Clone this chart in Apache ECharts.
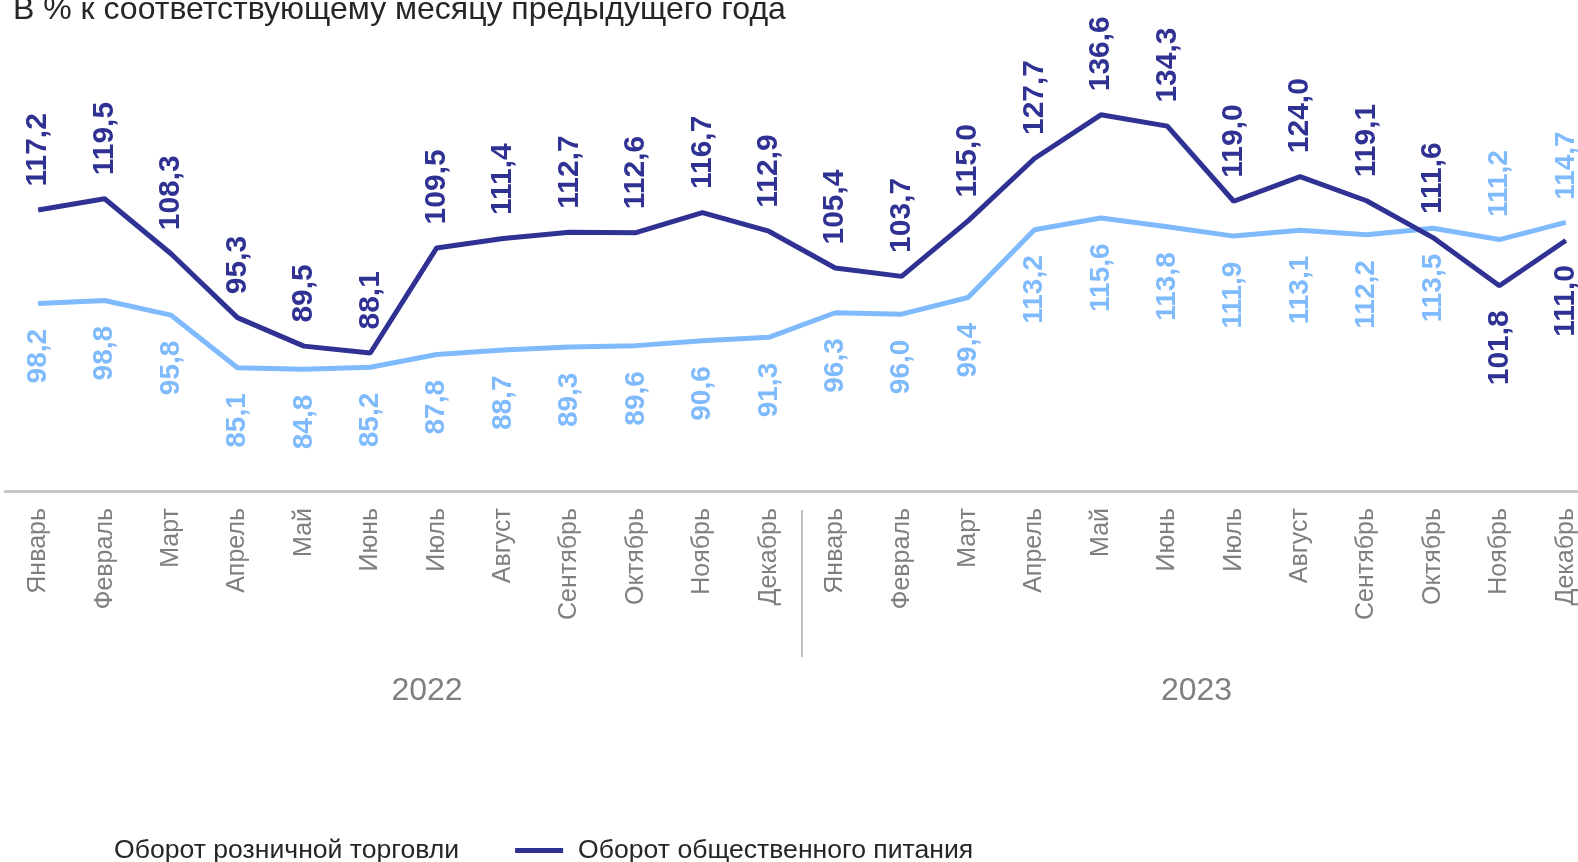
<!DOCTYPE html>
<html>
<head>
<meta charset="utf-8">
<script src="https://cdn.jsdelivr.net/npm/echarts@6/dist/echarts.min.js"></script>
<style>
  html, body { margin: 0; padding: 0; background: #fff; }
  #chart { width: 1578px; height: 862px; }
</style>
</head>
<body>
<div id="chart"></div>
<script>
  // months, two years
  const months = ['Январь', 'Февраль', 'Март', 'Апрель', 'Май', 'Июнь', 'Июль', 'Август',
    'Сентябрь', 'Октябрь', 'Ноябрь', 'Декабрь'];
  const years = ['2022', '2023'];
  const categories = months.concat(months);

  // оборот розничной торговли
  const retail = [98.2, 98.8, 95.8, 85.1, 84.8, 85.2, 87.8, 88.7, 89.3, 89.6, 90.6, 91.3,
    96.3, 96.0, 99.4, 113.2, 115.6, 113.8, 111.9, 113.1, 112.2, 113.5, 111.2, 114.7];
  // оборот общественного питания
  const catering = [117.2, 119.5, 108.3, 95.3, 89.5, 88.1, 109.5, 111.4, 112.7, 112.6, 116.7, 112.9,
    105.4, 103.7, 115.0, 127.7, 136.6, 134.3, 119.0, 124.0, 119.1, 111.6, 101.8, 111.0];

  const FONT = 'Arial, "Liberation Sans", sans-serif';
  const DARK = '#2f3193';
  const LIGHT = '#7fbafc';

  var fmt = function (p) { return p.value.toFixed(1).replace('.', ','); };

  function labelUp(dist, size, color) {
    return { show: true, position: 'top', rotate: 90, align: 'left', verticalAlign: 'middle',
      distance: dist, fontSize: size, fontWeight: 'bold', fontFamily: FONT, color: color, formatter: fmt };
  }
  function labelDown(dist, size, color) {
    return { show: true, position: 'bottom', rotate: 90, align: 'right', verticalAlign: 'middle',
      distance: dist, fontSize: size, fontWeight: 'bold', fontFamily: FONT, color: color, formatter: fmt };
  }

  // last two months of 2023 have labels on the other side
  var retailData = retail.map(function (v, i) {
    return i >= 22 ? { value: v, label: labelUp(22, 28, LIGHT) } : v;
  });
  var cateringData = catering.map(function (v, i) {
    return i >= 22 ? { value: v, label: labelDown(24, 30, DARK) } : v;
  });

  var chartDom = document.getElementById('chart');
  var myChart = echarts.init(chartDom);

  var option = {
    animation: false,
    textStyle: { fontFamily: FONT },
    title: {
      text: 'В % к соответствующему месяцу предыдущего года',
      left: 8,
      top: -11,
      textStyle: { fontSize: 32, fontWeight: 'normal', color: '#262626', fontFamily: FONT }
    },
    legend: {
      left: 46,
      top: 832,
      itemWidth: 48,
      itemHeight: 5,
      itemGap: 56,
      textStyle: { fontSize: 26.6, color: '#262626', fontFamily: FONT, padding: [0, 0, 0, 10] },
      data: [
        { name: 'Оборот розничной торговли', icon: 'rect', itemStyle: { opacity: 0 } },
        { name: 'Оборот общественного питания', icon: 'rect' }
      ]
    },
    grid: { left: 5, width: 1594, top: 49, bottom: 371, outerBoundsMode: 'none', containLabel: false },
    xAxis: [
      {
        type: 'category',
        data: categories,
        boundaryGap: true,
        axisLine: { lineStyle: { color: '#c8c8c8', width: 3 } },
        axisTick: { show: false },
        axisLabel: {
          rotate: 90, margin: 17, interval: 0,
          color: '#7f7f7f', fontSize: 25, fontFamily: FONT
        }
      },
      {
        type: 'category',
        data: [
          { value: years[0], textStyle: { padding: [0, 0, 0, 47] } },
          { value: years[1], textStyle: { padding: [0, 8, 0, 0] } }
        ],
        position: 'bottom',
        offset: 174,
        axisLine: { show: false },
        axisTick: { show: false },
        axisLabel: { margin: 10, color: '#7f7f7f', fontSize: 32, fontFamily: FONT }
      }
    ],
    yAxis: { type: 'value', min: 60, max: 150, show: false },
    series: [
      {
        name: 'Оборот розничной торговли',
        type: 'line',
        data: retailData,
        symbol: 'circle',
        symbolSize: 1,
        color: LIGHT,
        lineStyle: { width: 5, color: LIGHT },
        label: labelDown(25, 28, LIGHT),
        z: 2
      },
      {
        name: 'Оборот общественного питания',
        type: 'line',
        data: cateringData,
        symbol: 'circle',
        symbolSize: 1,
        color: DARK,
        lineStyle: { width: 5, color: DARK },
        label: labelUp(23, 30, DARK),
        z: 3
      }
    ]
  };

  myChart.setOption(option);

  // divider between the years, placed from the axis scale
  var xDec = myChart.convertToPixel({ xAxisIndex: 0 }, 11);
  var xJan = myChart.convertToPixel({ xAxisIndex: 0 }, 12);
  var yBase = myChart.convertToPixel({ yAxisIndex: 0 }, 60);
  myChart.setOption({
    graphic: [{
      type: 'line',
      shape: { x1: (xDec + xJan) / 2, y1: yBase + 19, x2: (xDec + xJan) / 2, y2: yBase + 166 },
      style: { stroke: '#c0c0c0', lineWidth: 2 }
    }]
  });
</script>
</body>
</html>
